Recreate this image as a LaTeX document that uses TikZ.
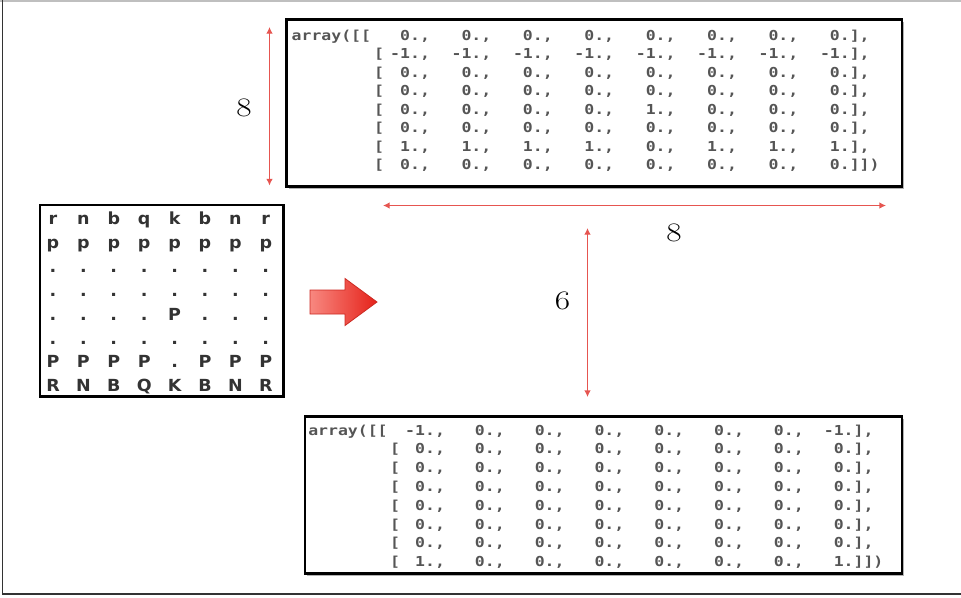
\documentclass[tikz,border=0pt]{standalone}
\usepackage{fontspec}
\usepackage{graphicx}
\newfontfamily\arrfont{DejaVu Sans Mono Bold}
\newfontfamily\chessfont{DejaVu Sans Bold}
\usetikzlibrary{arrows.meta,shadows}
\definecolor{dimred}{HTML}{E65550}
\definecolor{arrlight}{HTML}{F88880}
\definecolor{arrdark}{HTML}{E5221A}
\definecolor{arredge}{HTML}{CC2A22}
\definecolor{txtgray}{HTML}{555555}
\definecolor{chessgray}{HTML}{333333}
\newcommand\sx[2]{\scalebox{#1}[1]{#2}}
\begin{document}
\begin{tikzpicture}[x=0.75pt,y=-0.75pt,
  panel/.style={draw=black, line width=2pt, fill=white, inner sep=0pt, outer sep=0pt,
    drop shadow={shadow xshift=1.5pt, shadow yshift=-1.5pt, fill=black, opacity=0.3}},
  arrtxt/.style={inner sep=0pt, outer sep=0pt, text=txtgray, font=\arrfont\fontsize{10.3}{12}\selectfont, anchor=base east},
  arrpre/.style={arrtxt, anchor=base west},
  chesstxt/.style={inner sep=0pt, outer sep=0pt, text=chessgray, font=\chessfont\fontsize{12.5}{15}\selectfont, anchor=base},
  dimlabel/.style={inner sep=0pt, font=\fontsize{20}{24}\selectfont},
  dimline/.style={draw=dimred, line width=1.3pt, {Latex[length=5pt,width=5pt]}-{Latex[length=5pt,width=5pt]}},
  frameline/.style={line width=1.2pt}
]
\useasboundingbox (0,0) rectangle (961,597);
\fill[white] (0,0) rectangle (961,597);
% outer frame
\coordinate (f1) at (0,1);
\coordinate (f2) at (961,1);
\coordinate (f3) at (2.5,0);
\coordinate (f4) at (2.5,594);
\coordinate (f5) at (961,594);
\draw[frameline, black!25] (f1) -- (f2);
\draw[frameline, black!80] (f3) -- (f4) -- (f5);

% panels
\node[panel, minimum width=461.6pt, minimum height=125.25pt] (topbox) at (594.25,103) {};
\node[panel, minimum width=447.75pt, minimum height=117.75pt] (botbox) at (603.5,495) {};
\node[panel, minimum width=182.6pt, minimum height=143.6pt] (board) at (161.75,300.75) {};

% top array
\node[arrpre] (tp1) at (291.7,40) {\sx{1.2}{array([[}};
\foreach \ri in {2,...,8}{
  \node[arrtxt] (tp\ri) at (384,{40+18.57*(\ri-1)}) {\sx{1.2}{[}};
}
\foreach \vals [count=\ri] in {
  {0.,0.,0.,0.,0.,0.,0.,0.},
  {-1.,-1.,-1.,-1.,-1.,-1.,-1.,-1.},
  {0.,0.,0.,0.,0.,0.,0.,0.},
  {0.,0.,0.,0.,0.,0.,0.,0.},
  {0.,0.,0.,0.,1.,0.,0.,0.},
  {0.,0.,0.,0.,0.,0.,0.,0.},
  {1.,1.,1.,1.,0.,1.,1.,1.},
  {0.,0.,0.,0.,0.,0.,0.,0.}}{
  \foreach \v [count=\ci] in \vals {
    \node[arrtxt] (t-\ri-\ci) at ({420+61.4*(\ci-1)},{40+18.57*(\ri-1)})
      {\sx{1.2}{\v\rlap{\ifnum\ci<8 ,\else\ifnum\ri=8 ]])\else ],\fi\fi}}};
  }
}

% bottom array
\node[arrpre] (bp1) at (308.3,435) {\sx{1.2}{array([[}};
\foreach \ri in {2,...,8}{
  \node[arrtxt] (bp\ri) at (400,{435+18.8*(\ri-1)}) {\sx{1.2}{[}};
}
\foreach \vals [count=\ri] in {
  {-1.,0.,0.,0.,0.,0.,0.,-1.},
  {0.,0.,0.,0.,0.,0.,0.,0.},
  {0.,0.,0.,0.,0.,0.,0.,0.},
  {0.,0.,0.,0.,0.,0.,0.,0.},
  {0.,0.,0.,0.,0.,0.,0.,0.},
  {0.,0.,0.,0.,0.,0.,0.,0.},
  {0.,0.,0.,0.,0.,0.,0.,0.},
  {1.,0.,0.,0.,0.,0.,0.,1.}}{
  \foreach \v [count=\ci] in \vals {
    \node[arrtxt] (b-\ri-\ci) at ({435+59.8*(\ci-1)},{435+18.8*(\ri-1)})
      {\sx{1.2}{\v\rlap{\ifnum\ci<8 ,\else\ifnum\ri=8 ]])\else ],\fi\fi}}};
  }
}

% chess board
\foreach \rowtxt [count=\ri] in {
  {r,n,b,q,k,b,n,r},
  {p,p,p,p,p,p,p,p},
  {.,.,.,.,.,.,.,.},
  {.,.,.,.,.,.,.,.},
  {.,.,.,.,P,.,.,.},
  {.,.,.,.,.,.,.,.},
  {P,P,P,P,.,P,P,P},
  {R,N,B,Q,K,B,N,R}}{
  \foreach \p [count=\ci] in \rowtxt {
    \node[chesstxt] (c-\ri-\ci) at ({53+30.4*(\ci-1)},{224.5+23.9*(\ri-1)}) {\sx{1.05}{\p}};
  }
}

% big red arrow
\shadedraw[left color=arrlight, right color=arrdark, draw=arredge, line width=0.6pt]
  (310,290) -- (345,290) -- (345,278.5) -- (377,302) -- (345,325.5) -- (345,314) -- (310,314) -- cycle;

% dimension lines
\coordinate (va) at (269.5,27);
\coordinate (vb) at (269.5,185.5);
\coordinate (ha) at (383,205.5);
\coordinate (hb) at (886,205.5);
\coordinate (wa) at (587.5,228);
\coordinate (wb) at (587.5,397);
\draw[dimline] (va) -- (vb);
\draw[dimline] (ha) -- (hb);
\draw[dimline] (wa) -- (wb);
\node[dimlabel] (lab1) at (244,108) {\sx{1.25}{8}};
\node[dimlabel] (lab2) at (674,232.5) {\sx{1.25}{8}};
\node[dimlabel] (lab3) at (562.5,301) {\sx{1.25}{6}};
\end{tikzpicture}
\end{document}
